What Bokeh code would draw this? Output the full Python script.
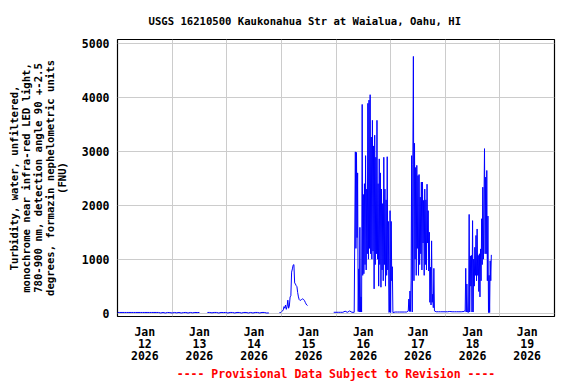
import numpy as np
import pandas as pd
from bokeh.plotting import figure
from bokeh.models import FixedTicker, Range1d, ColumnDataSource
from bokeh.embed import file_html
from bokeh.resources import INLINE

# ---------------- text ----------------
title_text = "USGS 16210500 Kaukonahua Str at Waialua, Oahu, HI"
y_label = ("Turbidity, water, unfiltered,\n"
           "monochrome near infra-red LED light,\n"
           "780-900 nm, detection angle 90 +-2.5\n"
           "degrees, formazin nephelometric units\n"
           "(FNU)")
footer_text = "---- Provisional Data Subject to Revision ----"

# ---------------- axes ----------------
x_start = "2026-01-12 00:00"
x_end = "2026-01-20 00:00"
day_label_times = ["2026-01-12 12:00", "2026-01-13 12:00", "2026-01-14 12:00", "2026-01-15 12:00",
                   "2026-01-16 12:00", "2026-01-17 12:00", "2026-01-18 12:00", "2026-01-19 12:00"]
day_labels = ["Jan\n12\n2026", "Jan\n13\n2026", "Jan\n14\n2026", "Jan\n15\n2026",
              "Jan\n16\n2026", "Jan\n17\n2026", "Jan\n18\n2026", "Jan\n19\n2026"]
grid_times = ["2026-01-13 00:00", "2026-01-14 00:00", "2026-01-15 00:00", "2026-01-16 00:00",
              "2026-01-17 00:00", "2026-01-18 00:00", "2026-01-19 00:00"]
y_ticks = [0, 1000, 2000, 3000, 4000, 5000]
y_min, y_max = -63, 5074

# ---------------- data (FNU), pieces: start, step minutes, values ----------------
jan12_start, jan12_step = "2026-01-12 00:00", 60
jan12_vals = [12, 12, 12, 12, 12, 12, 12, 12, 12, 12, 12, 12, 12, 12, 12, 12, 12, 12, 12,
              3, 12, 2, 12, 10, 2, 12, 5, 12, 2, 10, 12, 2, 12, 5, 12, 10, 12]

jan13_start, jan13_step = "2026-01-13 15:30", 60
jan13_vals = [12, 12, 5, 12, 12, 2, 12, 10, 12, 2, 12, 12, 3, 12, 12, 2, 12, 12, 3, 12,
              2, 12, 12, 3, 12, 12, 2, 3]

jan15_start, jan15_step = "2026-01-14 23:10", 20
jan15_vals = [10, 10, 15, 30, 40, 60, 120, 90, 150, 70, 120, 240, 90, 130, 300, 320, 760, 820,
              890, 900, 560, 540, 510, 490, 380, 300, 250, 235, 240, 250, 265, 260, 250, 230,
              200, 170, 150, 140]

pre16_start, pre16_step = "2026-01-15 23:00", 60
pre16_vals = [15, 15, 15, 15, 15, 35, 15, 40, 15, 15]

jan16_start, jan16_step = "2026-01-16 08:30", 15
jan16_vals = [2990, 1200, 2980, 1400, 2600, 30, 820, 20, 1590, 20,
              300, 20, 3870, 700, 2200, 730, 2400, 900, 2920, 800,
              2300, 1100, 3890, 1000, 3950, 1200, 4050, 1100, 3265, 1000,
              3575, 1150, 3100, 450, 3300, 900, 2890, 1100, 3575, 1000,
              2400, 500, 2860, 900, 2600, 480, 2300, 800, 2030, 600,
              2890, 900, 2300, 500, 2100, 700, 2900, 800, 1700, 10,
              20, 1900, 10, 1700, 600, 860, 10]

pre17_start, pre17_step = "2026-01-17 02:00", 60
pre17_vals = [20, 20, 20, 20, 20, 20]

jan17_start, jan17_step = "2026-01-17 07:45", 15
jan17_vals = [40, 260, 30, 410, 30, 600, 2920, 20, 2760, 4760,
              600, 3150, 1000, 2700, 700, 2740, 1200, 2550, 700, 2570,
              900, 2150, 1100, 2430, 800, 2430, 1300, 2090, 700, 2300,
              900, 2100, 800, 2390, 1300, 1900, 780, 1500, 200, 850,
              150, 1340, 200, 350, 100, 830, 40]

pre18_start, pre18_step = "2026-01-17 20:00", 60
pre18_vals = [25, 25, 25, 25, 25, 25, 30, 25, 25, 25, 25, 25]

jan18_start, jan18_step = "2026-01-18 08:15", 15
jan18_vals = [30, 40, 30, 830, 20, 540, 20, 10, 15, 1830,
              20, 1060, 500, 1070, 20, 1715, 20, 1000, 500, 1220,
              700, 1440, 600, 1560, 700, 1070, 400, 1100, 300, 1190,
              600, 1750, 900, 2335, 1000, 2000, 3050, 1100, 2520, 1100,
              2645, 600, 1800, 10, 700, 10, 970, 600, 1080]

# (start, step, values, break_after)
pieces = [
    (jan12_start, jan12_step, jan12_vals, True),
    (jan13_start, jan13_step, jan13_vals, True),
    (jan15_start, jan15_step, jan15_vals, True),
    (pre16_start, pre16_step, pre16_vals, False),
    (jan16_start, jan16_step, jan16_vals, False),
    (pre17_start, pre17_step, pre17_vals, False),
    (jan17_start, jan17_step, jan17_vals, False),
    (pre18_start, pre18_step, pre18_vals, False),
    (jan18_start, jan18_step, jan18_vals, False),
]


def ms(t):
    return pd.Timestamp(t).value / 1e6


xs, ys = [], []
for start, step, vals, brk in pieces:
    times = pd.date_range(start=start, periods=len(vals), freq=f"{step}min")
    xs.extend([t.value / 1e6 for t in times])
    ys.extend(vals)
    if brk:
        xs.append(xs[-1])
        ys.append(np.nan)

source = ColumnDataSource(data=dict(x=xs, y=ys))

FONT = "DejaVu Sans Mono"

p = figure(width=576, height=384, x_axis_type="datetime",
           x_range=Range1d(ms(x_start), ms(x_end)), y_range=Range1d(y_min, y_max),
           output_backend="svg", toolbar_location=None,
           min_border_left=117, min_border_right=22, min_border_top=39, min_border_bottom=68)

p.line("x", "y", source=source, line_color="#0000ff", line_width=1)

# title
p.title.text = title_text
p.title.text_font = FONT
p.title.text_font_style = "bold"
p.title.text_font_size = "10.6px"
p.title.text_color = "black"
p.title.align = "left"
p.title.offset = 31
p.title.standoff = 25

# x axis
label_ms = [ms(t) for t in day_label_times]
p.xaxis.ticker = FixedTicker(ticks=label_ms)
p.xaxis.major_label_overrides = {k: v for k, v in zip(label_ms, day_labels)}
p.xaxis.major_label_text_font = FONT
p.xaxis.major_label_text_font_style = "bold"
p.xaxis.major_label_text_font_size = "11.5px"
p.xaxis.major_label_text_line_height = 0.88
p.xaxis.major_label_text_color = "black"
p.xaxis.major_label_standoff = 8
p.xaxis.major_tick_out = 0
p.xaxis.major_tick_in = 0
p.xaxis.minor_tick_out = 0
p.xaxis.minor_tick_in = 0
p.xaxis.axis_line_color = None
p.xaxis.major_tick_line_color = None
p.xaxis.minor_tick_line_color = None
# footer line under the dates
p.xaxis.axis_label = footer_text
p.xaxis.axis_label_text_font = FONT
p.xaxis.axis_label_text_font_style = "bold"
p.xaxis.axis_label_text_font_size = "11.5px"
p.xaxis.axis_label_text_color = "red"
p.xaxis.axis_label_standoff = 1

# y axis
p.yaxis.ticker = FixedTicker(ticks=y_ticks)
p.yaxis.major_label_text_font = FONT
p.yaxis.major_label_text_font_style = "bold"
p.yaxis.major_label_text_font_size = "11.5px"
p.yaxis.major_label_text_color = "black"
p.yaxis.major_label_standoff = 8
p.yaxis.major_tick_out = 0
p.yaxis.major_tick_in = 0
p.yaxis.minor_tick_out = 0
p.yaxis.minor_tick_in = 0
p.yaxis.axis_line_color = None
p.yaxis.major_tick_line_color = None
p.yaxis.minor_tick_line_color = None
p.yaxis.axis_label = y_label
p.yaxis.axis_label_text_font = FONT
p.yaxis.axis_label_text_font_style = "bold"
p.yaxis.axis_label_text_font_size = "10.6px"
p.yaxis.axis_label_text_line_height = 1.0
p.yaxis.axis_label_standoff = 11
p.yaxis.axis_label_text_color = "black"

# grid
p.xgrid.ticker = FixedTicker(ticks=[ms(t) for t in grid_times])
p.ygrid.ticker = FixedTicker(ticks=y_ticks)
p.xgrid.grid_line_color = "#cccccc"
p.ygrid.grid_line_color = "#cccccc"

p.outline_line_color = "black"
p.outline_line_width = 1.2
p.background_fill_color = "white"
p.border_fill_color = "white"

open("out.html", "w").write(file_html(p, INLINE))
